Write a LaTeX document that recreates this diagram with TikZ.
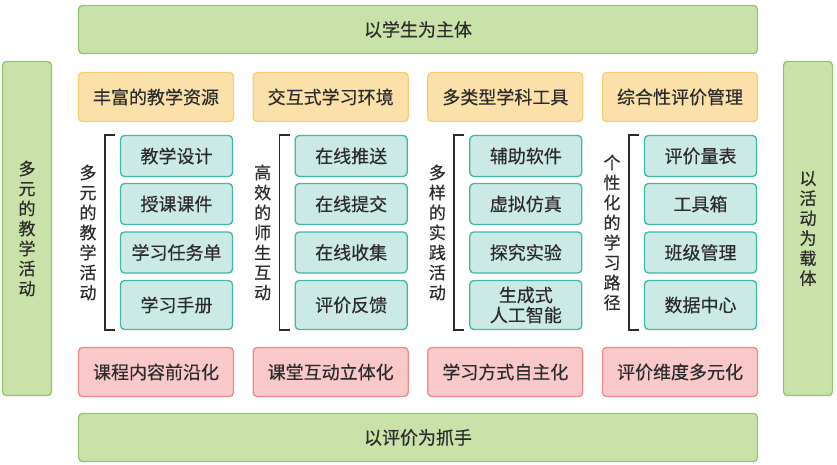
\documentclass[tikz,border=0pt]{standalone}
\usepackage{fontspec}
\setmainfont{Noto Sans CJK SC}[FakeBold=0.35]
\definecolor{barfill}{HTML}{C9E2A9}
\definecolor{barline}{HTML}{93C46E}
\definecolor{headfill}{HTML}{FBE0A9}
\definecolor{headline}{HTML}{F3CF70}
\definecolor{itemfill}{HTML}{CBEAE5}
\definecolor{itemline}{HTML}{3DB8A9}
\definecolor{tailfill}{HTML}{F9C9C9}
\definecolor{tailline}{HTML}{EE8A8A}
\definecolor{inktext}{HTML}{2B2B2B}
\begin{document}
\begin{tikzpicture}[x=1pt,y=-1pt,
	every node/.style={text=inktext,font=\fontsize{18}{20}\selectfont,inner sep=0pt},
	bar/.style={draw=barline,fill=barfill,rounded corners=4pt,line width=1.3pt,align=center},
	box/.style={rounded corners=4pt,line width=1.3pt,minimum width=155pt,minimum height=49pt},
	headbox/.style={box,draw=headline,fill=headfill},
	tailbox/.style={box,draw=tailline,fill=tailfill},
	itembox/.style={rounded corners=4pt,line width=1.3pt,draw=itemline,fill=itemfill,minimum width=112pt,minimum height=41pt,align=center},
	vlabel/.style={align=center,font=\fontsize{17}{20}\selectfont},
	bracket/.style={draw=inktext,line width=1.4pt}]
	\useasboundingbox (0,0) rectangle (837,465);
	
	%BARS
	\node[bar,minimum width=679pt,minimum height=48pt] (top) at (418,29.5) {以学生为主体};
	\node[bar,minimum width=679pt,minimum height=48pt] (bottom) at (418,437.5) {以评价为抓手};
	\node[bar,minimum width=49pt,minimum height=334pt,font=\fontsize{17}{20}\selectfont] (left) at (27,228.5) {多\\元\\的\\教\\学\\活\\动};
	\node[bar,minimum width=49pt,minimum height=334pt,font=\fontsize{17}{20}\selectfont] (right) at (808,228.5) {以\\活\\动\\为\\载\\体};
	
	%COLUMNS
	\foreach \i/\head/\tail/\side/\a/\b/\c/\d in {
		0/{丰富的教学资源}/{课程内容前沿化}/{多\\元\\的\\教\\学\\活\\动}/{教学设计}/{授课课件}/{学习任务单}/{学习手册},
		1/{交互式学习环境}/{课堂互动立体化}/{高\\效\\的\\师\\生\\互\\动}/{在线推送}/{在线提交}/{在线收集}/{评价反馈},
		2/{多类型学科工具}/{学习方式自主化}/{多\\样\\的\\实\\践\\活\\动}/{辅助软件}/{虚拟仿真}/{探究实验}/{生成式\\人工智能},
		3/{综合性评价管理}/{评价维度多元化}/{个\\性\\化\\的\\学\\习\\路\\径}/{评价量表}/{工具箱}/{班级管理}/{数据中心}}{
	\node[headbox] (head\i) at ({156+174.67*\i},97) {\head};
	\node[itembox] (item\i1) at ({176.5+174.67*\i},156) {\a};
	\node[itembox] (item\i2) at ({176.5+174.67*\i},204) {\b};
	\node[itembox] (item\i3) at ({176.5+174.67*\i},252.5) {\c};
	\node[itembox,minimum height=49pt] (item\i4) at ({176.5+174.67*\i},305) {\d};
	\node[tailbox] (tail\i) at ({156+174.67*\i},372) {\tail};
	\node[vlabel] (side\i) at ({88+174.67*\i},232.5) {\side};
	%BRACKET
	\draw[bracket] ([xshift=-5pt]item\i1.north west) -- ++(-10,0) |- ([xshift=-5pt]item\i4.south west);
	}
	
\end{tikzpicture}
\end{document}
